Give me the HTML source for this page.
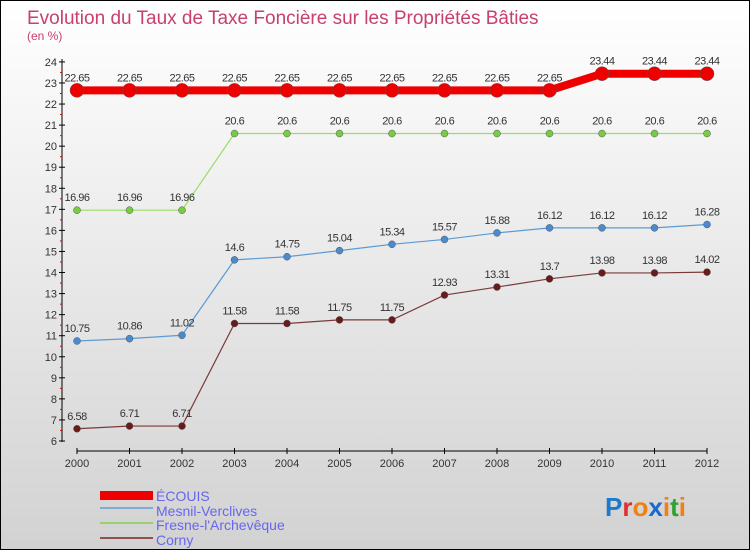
<!DOCTYPE html>
<html><head><meta charset="utf-8"><style>
body{margin:0}
#c{width:748px;height:548px;border:1px solid #000;background:linear-gradient(#ffffff,#d2d2d2);position:relative;font-family:"Liberation Sans",sans-serif;overflow:hidden}
</style></head><body>
<div id="c">
<svg id="s" width="748" height="548" style="position:absolute;left:0;top:0">
<text x="26" y="23" font-size="19" fill="#c8406e">Evolution du Taux de Taxe Foncière sur les Propriétés Bâties</text>
<text x="26" y="39" font-size="12" fill="#c8406e">(en %)</text>
<g id="axes"></g><g id="series"></g>
<g>
<rect x="99" y="490" width="53" height="9" fill="#e00"/>
<text x="155" y="500" font-size="14" fill="#6666ee">ÉCOUIS</text>
<line x1="99" y1="507" x2="152" y2="507" stroke="#80acd0" stroke-width="2"/>
<text x="155" y="515" font-size="14" fill="#6666ee">Mesnil-Verclives</text>
<line x1="99" y1="522" x2="152" y2="522" stroke="#99d070" stroke-width="2"/>
<text x="155" y="529" font-size="14" fill="#6666ee">Fresne-l'Archevêque</text>
<line x1="99" y1="537" x2="152" y2="537" stroke="#905050" stroke-width="2"/>
<text x="155" y="544" font-size="14" fill="#6666ee">Corny</text>
</g>
<text x="604" y="515" font-size="26" font-weight="bold" font-family="Liberation Sans,sans-serif"><tspan fill="#1a7acc">P</tspan><tspan fill="#e03030">r</tspan><tspan fill="#f08010">o</tspan><tspan fill="#1a6acc">x</tspan><tspan fill="#f08010">i</tspan><tspan fill="#30a030">t</tspan><tspan fill="#f08010">i</tspan></text>
</svg></div>
<script>
const years=[2000,2001,2002,2003,2004,2005,2006,2007,2008,2009,2010,2011,2012];
const yTicks=[6,7,8,9,10,11,12,13,14,15,16,17,18,19,20,21,22,23,24];
const ecouis=[22.65,22.65,22.65,22.65,22.65,22.65,22.65,22.65,22.65,22.65,23.44,23.44,23.44];
const mesnil=[10.75,10.86,11.02,14.6,14.75,15.04,15.34,15.57,15.88,16.12,16.12,16.12,16.28];
const fresne=[16.96,16.96,16.96,20.6,20.6,20.6,20.6,20.6,20.6,20.6,20.6,20.6,20.6];
const corny=[6.58,6.71,6.71,11.58,11.58,11.75,11.75,12.93,13.31,13.7,13.98,13.98,14.02];
const NS="http://www.w3.org/2000/svg";
const x=i=>76+i*52.5, y=v=>440-(v-6)*21.06;
function mk(t,a,p){const e=document.createElementNS(NS,t);for(const k in a)e.setAttribute(k,a[k]);p.appendChild(e);return e;}
const ax=document.getElementById('axes');
let e=mk('line',{x1:61,y1:58,x2:61,y2:441,stroke:'#000'},ax);


yTicks.forEach(v=>{mk('line',{x1:58,y1:y(v),x2:64,y2:y(v),stroke:'#000'},ax);
if(v<24)mk('line',{x1:59,y1:y(v+0.5),x2:61,y2:y(v+0.5),stroke:'#e00'},ax);
const t=mk('text',{x:56,y:y(v)+4,'font-size':11,fill:'#333','text-anchor':'end'},ax);t.textContent=v;

});
e=mk('line',{x1:76,y1:450,x2:706,y2:450,stroke:'#000'},ax);


years.forEach((yr,i)=>{mk('line',{x1:x(i),y1:447,x2:x(i),y2:453,stroke:'#000'},ax);
const t=mk('text',{x:x(i),y:466,'font-size':11,fill:'#333','text-anchor':'middle'},ax);t.textContent=yr;

});
const sg=document.getElementById('series');
function series(data,name,col,dot,w,r){
const g=mk('g',{},sg);


mk('polyline',{points:data.map((v,i)=>x(i)+','+y(v)).join(' '),fill:'none',stroke:col,'stroke-width':w},g);
data.forEach((v,i)=>{const c=mk('circle',{cx:x(i),cy:y(v),r:r,fill:dot,stroke:'#555','stroke-width':0.5},g);


const t=mk('text',{x:x(i),y:y(v)-9,'font-size':11,fill:'#333','text-anchor':'middle','letter-spacing':'-0.5'},g);
t.textContent=String(v).replace('.','.');

});}
series(corny,'corny','#7a3a3a','#6a1a1a',1.2,3.5);
series(mesnil,'mesnil','#5b9bd5','#4a8ad0',1.2,3.5);
series(fresne,'fresne','#99dd66','#77cc44',1.2,3.5);
series(ecouis,'ecouis','#ee0000','#ee0000',8,7);
</script>
</body></html>
